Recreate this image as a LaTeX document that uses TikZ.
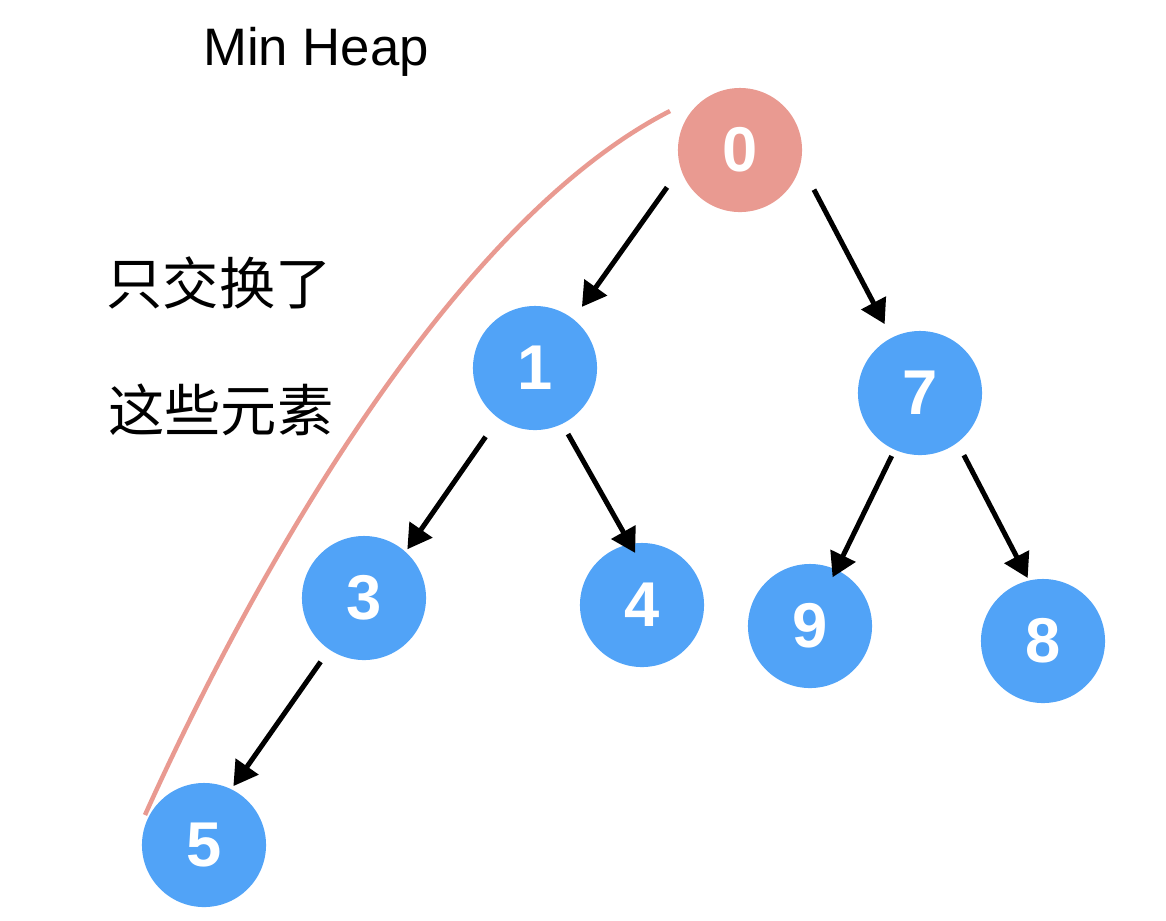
\documentclass[tikz,border=0pt]{standalone}
\usepackage{fontspec}
\usepackage{xcolor}
\usepackage{tikz}
\usetikzlibrary{arrows.meta}
\newfontfamily\numfont{Liberation Sans}
\newfontfamily\cjk{Noto Sans CJK SC}
\definecolor{heapblue}{RGB}{81,163,247}
\definecolor{heapred}{RGB}{233,154,145}

\begin{document}
\begin{tikzpicture}[x=0.01cm,y=-0.01cm,
  key/.style={circle,fill=heapblue,minimum size=1.24cm,inner sep=0pt,outer sep=0pt,
    text=white,font=\numfont\bfseries\fontsize{18}{20}\selectfont},
  rootkey/.style={key,fill=heapred},
  note/.style={font=\cjk\fontsize{16}{18}\selectfont}]
\useasboundingbox (0,0) rectangle (1166,920);
\begin{scope}[>={Triangle[length=0.24cm,width=0.27cm]},line width=0.05cm]

    \node[rootkey] (n0) at (740,150) {0};
    \node[key] (n1) at (535,368) {1};
    \node[key] (n7) at (920,393) {7};
    \node[key] (n3) at (364,598) {3};
    \node[key] (n4) at (642,605) {4};
    \node[key] (n9) at (810,626) {9};
    \node[key] (n8) at (1043,641) {8};
    \node[key] (n5) at (204,845) {5};

    \draw[->,shorten <=0.235cm,shorten >=0.15cm] (n0.197) -- (n1.52);
    \draw[->,shorten <=0.29cm,shorten >=0.154cm] (n0.347) -- (n7.117);
    \draw[->,shorten <=0.226cm,shorten >=0.032cm] (n1.234) -- (n3.48);
    \draw[->,shorten <=0.118cm,shorten >=-0.101cm] (n1.296) -- (n4.101);
    \draw[->,shorten <=0.07cm,shorten >=-0.083cm] (n7.246) -- (n9.65);
    \draw[->,shorten <=0.142cm,shorten >=0.029cm] (n7.307) -- (n8.103);
    \draw[->,shorten <=0.151cm,shorten >=0.038cm] (n3.236) -- (n5.64);

    \draw[heapred,line width=0.045cm] (670,111) .. controls (447.5,224.75) and (247.5,587.5) .. (145,815);

    \node[font=\numfont\fontsize{15}{18}\selectfont] (title) at (316,52) {Min Heap};
    \node[note] (line1) at (219,283) {只交换了};
    \node[note] (line2) at (221,410) {这些元素};
\end{scope}
\end{tikzpicture}
\end{document}
